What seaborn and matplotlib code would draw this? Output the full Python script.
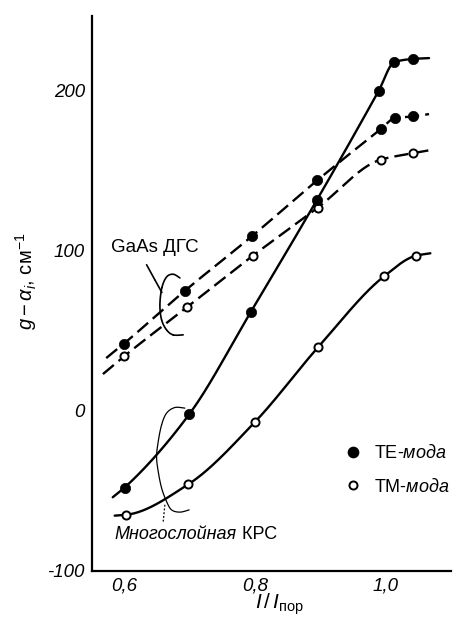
import numpy as np
import matplotlib
matplotlib.use("Agg")
import matplotlib.pyplot as plt
from matplotlib.lines import Line2D
import seaborn as sns

# Net gain g - alpha_i (cm^-1) versus relative current I / I_threshold
gaas_te_x = [0.600, 0.693, 0.795, 0.895, 0.992, 1.014, 1.041]
gaas_te_y = [42, 75, 109, 144, 176, 183, 184]
gaas_tm_x = [0.600, 0.697, 0.797, 0.896, 0.992, 1.041]
gaas_tm_y = [34, 65, 97, 127, 157, 161]
mqw_te_x = [0.601, 0.700, 0.794, 0.895, 0.989, 1.013, 1.042]
mqw_te_y = [-48, -2, 62, 132, 200, 218, 220]
mqw_tm_x = [0.603, 0.698, 0.800, 0.897, 0.997, 1.046]
mqw_tm_y = [-65, -46, -7, 40, 84, 97]

# where each fitted curve begins and ends: (x_start, y_start, x_end, y_end)
gaas_te_span = [0.573, 33, 1.066, 185.5]
gaas_tm_span = [0.568, 23, 1.068, 163]
mqw_te_span = [0.583, -54, 1.066, 220.5]
mqw_tm_span = [0.586, -65.5, 1.068, 98.5]

x_ticks = [0.6, 0.8, 1.0]
x_tick_labels = ["0,6", "0,8", "1,0"]
y_ticks = [-100, 0, 100, 200]
y_tick_labels = ["-100", "0", "100", "200"]

legend_labels = ["TE-$\\mathit{мода}$", "TM-$\\mathit{мода}$"]

# hand-drawn braces grouping the curve pairs (data units)
gaas_brace = [(0.6855, 83.1), (0.6753, 85.4), (0.6652, 83.7), (0.6580, 76.9),
              (0.6550, 66.2), (0.6576, 56.9), (0.6652, 50.6), (0.6753, 47.5),
              (0.6905, 47.5)]
gaas_leader = [(0.6347, 91.3), (0.6473, 81.9), (0.6580, 74.0)]
mqw_brace = [(0.6931, 1.7), (0.6779, 2.1), (0.6652, -1.4), (0.6576, -8.7),
             (0.6524, -19.2), (0.6499, -28.6), (0.6524, -37.9), (0.6576, -48.3),
             (0.6652, -56.7), (0.6728, -61.9), (0.6855, -63.3), (0.6997, -61.9)]
mqw_leader = [(0.6626, -58.7), (0.6600, -69.2)]


def pchip(x, y, xs):
    """Monotone cubic Hermite curve through (x, y), evaluated at xs."""
    x = np.asarray(x, float)
    y = np.asarray(y, float)
    h = np.diff(x)
    d = np.diff(y) / h
    n = len(x)
    m = np.zeros(n)
    for k in range(1, n - 1):
        if d[k - 1] * d[k] > 0:
            w1 = 2 * h[k] + h[k - 1]
            w2 = h[k] + 2 * h[k - 1]
            m[k] = (w1 + w2) / (w1 / d[k - 1] + w2 / d[k])
    m[0] = d[0]
    m[-1] = d[-1]
    idx = np.clip(np.searchsorted(x, xs) - 1, 0, n - 2)
    t = (xs - x[idx]) / h[idx]
    h00 = 2 * t**3 - 3 * t**2 + 1
    h10 = t**3 - 2 * t**2 + t
    h01 = -2 * t**3 + 3 * t**2
    h11 = t**3 - t**2
    return (h00 * y[idx] + h10 * h[idx] * m[idx]
            + h01 * y[idx + 1] + h11 * h[idx] * m[idx + 1])


def catmull_rom(pts, n=14, aspect=(655.0, 1.6)):
    """Smooth open path through pts, computed in an isotropic frame."""
    a = np.array(aspect)
    P = np.asarray(pts, float) * a
    P = np.vstack([P[0], P, P[-1]])
    t = np.linspace(0, 1, n)[:, None]
    segs = []
    for i in range(1, len(P) - 2):
        p0, p1, p2, p3 = P[i - 1], P[i], P[i + 1], P[i + 2]
        segs.append(0.5 * (2 * p1 + (-p0 + p2) * t
                           + (2 * p0 - 5 * p1 + 4 * p2 - p3) * t**2
                           + (-p0 + 3 * p1 - 3 * p2 + p3) * t**3))
    return np.vstack(segs) / a


sns.set_style("white")
plt.rcParams["font.family"] = ["Liberation Sans", "DejaVu Sans"]
plt.rcParams["mathtext.fontset"] = "custom"
plt.rcParams["mathtext.rm"] = "Liberation Sans"
plt.rcParams["mathtext.it"] = "Liberation Sans:italic"
plt.rcParams["mathtext.bf"] = "Liberation Sans:bold"
for key in ["text.color", "axes.labelcolor", "xtick.color", "ytick.color",
            "axes.edgecolor"]:
    plt.rcParams[key] = "black"

fig = plt.figure(figsize=(4.66, 6.28), dpi=100)
ax = fig.add_axes([0.197, 0.091, 0.7715, 0.884])

dash = (0, (6, 2.6))
series = [
    (gaas_te_x, gaas_te_y, gaas_te_span, dash, True),
    (gaas_tm_x, gaas_tm_y, gaas_tm_span, dash, False),
    (mqw_te_x, mqw_te_y, mqw_te_span, "-", True),
    (mqw_tm_x, mqw_tm_y, mqw_tm_span, "-", False),
]
for xs, ys, span, ls, filled in series:
    cx = [span[0]] + list(xs) + [span[2]]
    cy = [span[1]] + list(ys) + [span[3]]
    grid = np.linspace(cx[0], cx[-1], 400)
    sns.lineplot(x=grid, y=pchip(cx, cy, grid), ax=ax, color="black",
                 linewidth=1.7, linestyle=ls, sort=False, estimator=None,
                 zorder=2)
    if filled:
        sns.scatterplot(x=xs, y=ys, ax=ax, s=55, color="black",
                        edgecolor="black", linewidth=0.5, zorder=3)
    else:
        sns.scatterplot(x=xs, y=ys, ax=ax, s=34, color="white",
                        edgecolor="black", linewidth=1.4, zorder=3)

# grouping braces and leaders
for pts, lw, ls in [(gaas_brace, 1.2, "-"), (gaas_leader, 1.2, "-"),
                    (mqw_brace, 0.9, "-"), (mqw_leader, 0.9, (0, (1.5, 1.5)))]:
    path = catmull_rom(pts)
    ax.plot(path[:, 0], path[:, 1], color="black", lw=lw, linestyle=ls,
            zorder=1)

ax.text(0.581, 102, "GaAs ДГС", fontsize=13.5, ha="left", va="center")
t1 = ax.text(0.586, -77.5, "Многослойная", fontsize=13, style="italic",
             ha="left", va="center")
ax.annotate(" КРС", xy=(1, 0.5), xycoords=t1, fontsize=13,
            ha="left", va="center")

handles = [
    Line2D([], [], linestyle="none", marker="o", markersize=7.4,
           markerfacecolor="black", markeredgecolor="black"),
    Line2D([], [], linestyle="none", marker="o", markersize=5.8,
           markerfacecolor="white", markeredgecolor="black",
           markeredgewidth=1.4),
]
ax.legend(handles, legend_labels, loc="upper left",
          bbox_to_anchor=(0.702, 0.228), frameon=False, fontsize=13,
          borderpad=0, borderaxespad=0, handlelength=1.0,
          handletextpad=0.65, labelspacing=0.85)

ax.set_xlim(0.551, 1.1)
ax.set_ylim(-100, 247)
ax.set_xticks(x_ticks)
ax.set_xticklabels(x_tick_labels)
ax.set_yticks(y_ticks)
ax.set_yticklabels(y_tick_labels)
ax.set_xticks([1.1], minor=True)
ax.set_yticks([247], minor=True)
ax.tick_params(axis="both", which="both", direction="in", length=11,
               width=1.5, labelsize=13.5, pad=5, color="black",
               labelcolor="black")
for lab in ax.get_xticklabels() + ax.get_yticklabels():
    lab.set_fontstyle("italic")

for side in ["top", "right"]:
    ax.spines[side].set_visible(False)
for side in ["left", "bottom"]:
    ax.spines[side].set_linewidth(1.6)
    ax.spines[side].set_color("black")

ax.set_xlabel("$I\\,/\\,I_{\\mathrm{пор}}$", fontsize=15, va="center")
ax.xaxis.set_label_coords(0.523, -0.061)
ax.set_ylabel("$g-\\alpha_i$, см$^{-1}$", fontsize=14.5, va="center",
              ha="center")
ax.yaxis.set_label_coords(-0.184, 0.521)

fig.savefig("out.png", dpi=100, facecolor="white")
